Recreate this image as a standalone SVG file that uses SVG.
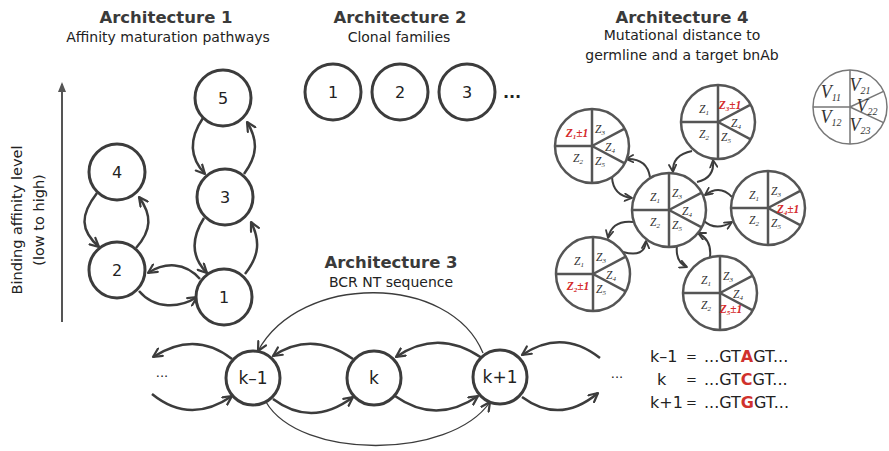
<svg xmlns="http://www.w3.org/2000/svg" xmlns:xlink="http://www.w3.org/1999/xlink" width="889" height="451" viewBox="0 0 889 451">
<style>
.h{font-family:"DejaVu Sans",sans-serif;font-weight:bold;font-size:16.5px;fill:#3a3a3a;text-anchor:middle}
.s{font-family:"DejaVu Sans",sans-serif;font-size:14px;fill:#222;text-anchor:middle}
.n{fill:#fff;stroke:#3c3c3c;stroke-width:3}
.nt{font-family:"DejaVu Sans",sans-serif;font-size:16px;fill:#222;text-anchor:middle}
.a{fill:none;stroke:#3c3c3c;stroke-width:2.5;marker-end:url(#ah)}
.a2{fill:none;stroke:#3c3c3c;stroke-width:2;marker-end:url(#ah2)}
.thin{fill:none;stroke:#3c3c3c;stroke-width:1.3;marker-end:url(#ah)}
.z{font-family:"Liberation Serif",serif;font-style:italic;font-size:11.5px;fill:#333;text-anchor:middle}
.zr{font-family:"Liberation Serif",serif;font-style:italic;font-weight:bold;font-size:11.5px;fill:#d42a2a;text-anchor:middle}
.v{font-family:"Liberation Serif",serif;font-style:italic;font-size:18px;fill:#333;text-anchor:middle}
.seq{font-family:"DejaVu Sans",sans-serif;font-size:16px;fill:#222}
.eq{font-family:"DejaVu Sans",sans-serif;font-size:13px;fill:#222}
.red{fill:#d0312d;font-weight:bold}
</style>
<defs>
<marker id="ah" viewBox="0 0 10 10" refX="9" refY="5" markerWidth="11" markerHeight="11" orient="auto" markerUnits="userSpaceOnUse">
<path d="M1,1 L9,5 L1,9" fill="none" stroke="#3c3c3c" stroke-width="2" stroke-linecap="round" stroke-linejoin="round"/>
</marker>
<marker id="ah2" viewBox="0 0 10 10" refX="9" refY="5" markerWidth="9" markerHeight="9" orient="auto" markerUnits="userSpaceOnUse">
<path d="M1,1 L9,5 L1,9" fill="none" stroke="#3c3c3c" stroke-width="2" stroke-linecap="round" stroke-linejoin="round"/>
</marker>
<marker id="axh" viewBox="0 0 10 10" refX="5" refY="2" markerWidth="10" markerHeight="10" orient="0" markerUnits="userSpaceOnUse">
<path d="M5,0 L9,10 L1,10 Z" fill="#555"/>
</marker>
<g id="pie">
<circle r="37" fill="#fff" stroke="#555" stroke-width="2.5"/>
<path d="M0,-37 V37 M-37,0 H0 M0,0 L32.7,-17.4 M0,0 L32.7,17.4" stroke="#555" stroke-width="2.5" fill="none"/>
</g>
</defs>

<!-- Headings -->
<g id="headings">
<text class="h" x="166" y="23">Architecture 1</text>
<text class="s" x="168" y="42">Affinity maturation pathways</text>
<text class="h" x="400" y="23">Architecture 2</text>
<text class="s" x="399" y="42">Clonal families</text>
<text class="h" x="682" y="23">Architecture 4</text>
<text class="s" x="682" y="40">Mutational distance to</text>
<text class="s" x="682" y="60">germline and a target bnAb</text>
<text class="h" x="391" y="268">Architecture 3</text>
<text class="s" x="391" y="287">BCR NT sequence</text>
</g>

<!-- Axis -->
<g id="axis">
<line x1="62" y1="322" x2="62" y2="84" stroke="#555" stroke-width="2" marker-end="url(#axh)"/>
<text class="s" transform="translate(22,220) rotate(-90)" style="font-size:14.5px">Binding affinity level</text>
<text class="s" transform="translate(44,220) rotate(-90)" style="font-size:14.5px">(low to high)</text>
</g>

<!-- Connectors -->
<g id="connectors">
<!-- Arch 1 -->
<path class="a" d="M97,193 C80,215 80,230 99,247"/>
<path class="a" d="M136,248 C152,230 152,215 139,197"/>
<path class="a" d="M203,118 C188,140 190,158 205,174"/>
<path class="a" d="M244,174 C258,155 258,140 247,122"/>
<path class="a" d="M204,218 C190,240 192,258 207,273"/>
<path class="a" d="M245,274 C260,255 260,240 251,222"/>
<path class="a" d="M200,279 C185,262 165,262 148,273"/>
<path class="a" d="M139,291 C155,310 180,308 197,297"/>
<!-- Arch 3 -->
<path class="a" d="M232,359 Q195,330 153,357"/>
<path class="a" d="M152,394 Q190,425 232,396"/>
<path class="a" d="M353,359 Q312,330 273,356"/>
<path class="a" d="M273,399 Q312,428 353,397"/>
<path class="a" d="M482,358 Q438,328 396,357"/>
<path class="a" d="M395,396 Q436,425 478,396"/>
<path class="a" d="M600,358 Q562,328 522,355"/>
<path class="a" d="M522,397 Q560,425 598,393"/>
<path class="thin" d="M483,353 C450,273 300,273 258,351"/>
<path class="thin" d="M266,402 C300,460 450,460 490,402"/>
<!-- Arch 4 -->
<path class="a2" d="M612,177 Q613,196 632,198"/>
<path class="a2" d="M650,177 Q647,158 626,159"/>
<path class="a2" d="M692,151 Q672,155 673,172"/>
<path class="a2" d="M697,182 Q715,178 713,160"/>
<path class="a2" d="M732,197 Q720,184 705,195"/>
<path class="a2" d="M703,220 Q715,232 732,222"/>
<path class="a2" d="M633,222 Q612,220 608,238"/>
<path class="a2" d="M623,252 Q645,258 646,241"/>
<path class="a2" d="M677,245 Q675,262 687,267"/>
<path class="a2" d="M710,257 Q712,240 698,233"/>
</g>

<!-- Arch 1 nodes -->
<g id="a1n5"><circle class="n" cx="223" cy="98" r="28"/><text class="nt" x="223" y="104">5</text></g>
<g id="a1n4"><circle class="n" cx="117" cy="172" r="28"/><text class="nt" x="117" y="178">4</text></g>
<g id="a1n3"><circle class="n" cx="225" cy="197" r="28"/><text class="nt" x="225" y="203">3</text></g>
<g id="a1n2"><circle class="n" cx="117" cy="270" r="28"/><text class="nt" x="117" y="276">2</text></g>
<g id="a1n1"><circle class="n" cx="224" cy="297" r="28"/><text class="nt" x="224" y="303">1</text></g>

<!-- Arch 2 nodes -->
<g id="a2n1"><circle class="n" cx="333" cy="92" r="28"/><text class="nt" x="333" y="98">1</text></g>
<g id="a2n2"><circle class="n" cx="400" cy="92" r="28"/><text class="nt" x="400" y="98">2</text></g>
<g id="a2n3"><circle class="n" cx="467" cy="92" r="28"/><text class="nt" x="467" y="98">3</text></g>
<g id="a2dots"><text class="nt" x="512" y="98" style="font-weight:bold">...</text></g>

<!-- Arch 3 nodes -->
<g id="a3dl"><text class="nt" x="162" y="377" style="font-size:13px">...</text></g>
<g id="a3km1"><circle class="n" cx="253" cy="378" r="27"/><text class="nt" x="253" y="384" style="font-size:17px">k–1</text></g>
<g id="a3k"><circle class="n" cx="374" cy="378" r="27"/><text class="nt" x="374" y="384" style="font-size:17px">k</text></g>
<g id="a3kp1"><circle class="n" cx="500" cy="377" r="27"/><text class="nt" x="500" y="383" style="font-size:17px">k+1</text></g>
<g id="a3dr"><text class="nt" x="617" y="378" style="font-size:13px">...</text></g>

<!-- Arch 4 pies -->
<g id="pieC">
<use xlink:href="#pie" href="#pie" x="669" y="210"/>
<text class="z" x="655" y="201">Z<tspan font-size="7" dy="2">1</tspan></text>
<text class="z" x="655" y="226">Z<tspan font-size="7" dy="2">2</tspan></text>
<text class="z" x="677" y="197">Z<tspan font-size="7" dy="2">3</tspan></text>
<text class="z" x="687" y="215">Z<tspan font-size="7" dy="2">4</tspan></text>
<text class="z" x="677" y="229">Z<tspan font-size="7" dy="2">5</tspan></text>
</g>
<g id="pieTL">
<use xlink:href="#pie" href="#pie" x="592" y="146"/>
<text class="zr" x="577" y="137">Z<tspan font-size="7" dy="2">1</tspan><tspan dy="-2">±1</tspan></text>
<text class="z" x="578" y="162">Z<tspan font-size="7" dy="2">2</tspan></text>
<text class="z" x="600" y="133">Z<tspan font-size="7" dy="2">3</tspan></text>
<text class="z" x="610" y="151">Z<tspan font-size="7" dy="2">4</tspan></text>
<text class="z" x="600" y="165">Z<tspan font-size="7" dy="2">5</tspan></text>
</g>
<g id="pieTR">
<use xlink:href="#pie" href="#pie" x="718" y="122"/>
<text class="z" x="704" y="113">Z<tspan font-size="7" dy="2">1</tspan></text>
<text class="z" x="704" y="138">Z<tspan font-size="7" dy="2">2</tspan></text>
<text class="zr" x="730" y="109">Z<tspan font-size="7" dy="2">3</tspan><tspan dy="-2">±1</tspan></text>
<text class="z" x="736" y="127">Z<tspan font-size="7" dy="2">4</tspan></text>
<text class="z" x="726" y="141">Z<tspan font-size="7" dy="2">5</tspan></text>
</g>
<g id="pieR">
<use xlink:href="#pie" href="#pie" x="768" y="208"/>
<text class="z" x="754" y="199">Z<tspan font-size="7" dy="2">1</tspan></text>
<text class="z" x="754" y="224">Z<tspan font-size="7" dy="2">2</tspan></text>
<text class="z" x="776" y="195">Z<tspan font-size="7" dy="2">3</tspan></text>
<text class="zr" x="788" y="213">Z<tspan font-size="7" dy="2">4</tspan><tspan dy="-2">±1</tspan></text>
<text class="z" x="776" y="227">Z<tspan font-size="7" dy="2">5</tspan></text>
</g>
<g id="pieBL">
<use xlink:href="#pie" href="#pie" x="593" y="274"/>
<text class="z" x="579" y="265">Z<tspan font-size="7" dy="2">1</tspan></text>
<text class="zr" x="578" y="290">Z<tspan font-size="7" dy="2">2</tspan><tspan dy="-2">±1</tspan></text>
<text class="z" x="601" y="261">Z<tspan font-size="7" dy="2">3</tspan></text>
<text class="z" x="611" y="279">Z<tspan font-size="7" dy="2">4</tspan></text>
<text class="z" x="601" y="293">Z<tspan font-size="7" dy="2">5</tspan></text>
</g>
<g id="pieBR">
<use xlink:href="#pie" href="#pie" x="720" y="293"/>
<text class="z" x="706" y="284">Z<tspan font-size="7" dy="2">1</tspan></text>
<text class="z" x="706" y="309">Z<tspan font-size="7" dy="2">2</tspan></text>
<text class="z" x="728" y="280">Z<tspan font-size="7" dy="2">3</tspan></text>
<text class="z" x="738" y="298">Z<tspan font-size="7" dy="2">4</tspan></text>
<text class="zr" x="731" y="313">Z<tspan font-size="7" dy="2">5</tspan><tspan dy="-2">±1</tspan></text>
</g>
<g id="pieV">
<circle cx="850" cy="107" r="37" fill="#fff" stroke="#777" stroke-width="1.5"/>
<path d="M850,70 V144 M813,107 H850 M850,107 L883.5,91.4 M850,107 L883.5,122.6" stroke="#777" stroke-width="1.5" fill="none"/>
<text class="v" x="831" y="98">V<tspan font-size="10" dy="3">11</tspan></text>
<text class="v" x="831" y="123">V<tspan font-size="10" dy="3">12</tspan></text>
<text class="v" x="860" y="91">V<tspan font-size="10" dy="3">21</tspan></text>
<text class="v" x="867" y="112">V<tspan font-size="10" dy="3">22</tspan></text>
<text class="v" x="860" y="131">V<tspan font-size="10" dy="3">23</tspan></text>
</g>

<!-- Sequences -->
<g id="sequences">
<text class="seq" x="650" y="362">k–1</text>
<text class="eq" x="686" y="361">=</text>
<text class="seq" x="704" y="362">...GT<tspan class="red">A</tspan>GT...</text>
<text class="seq" x="657" y="385">k</text>
<text class="eq" x="686" y="384">=</text>
<text class="seq" x="704" y="385">...GT<tspan class="red">C</tspan>GT...</text>
<text class="seq" x="650" y="408">k+1</text>
<text class="eq" x="686" y="407">=</text>
<text class="seq" x="704" y="408">...GT<tspan class="red">G</tspan>GT...</text>
</g>
</svg>
